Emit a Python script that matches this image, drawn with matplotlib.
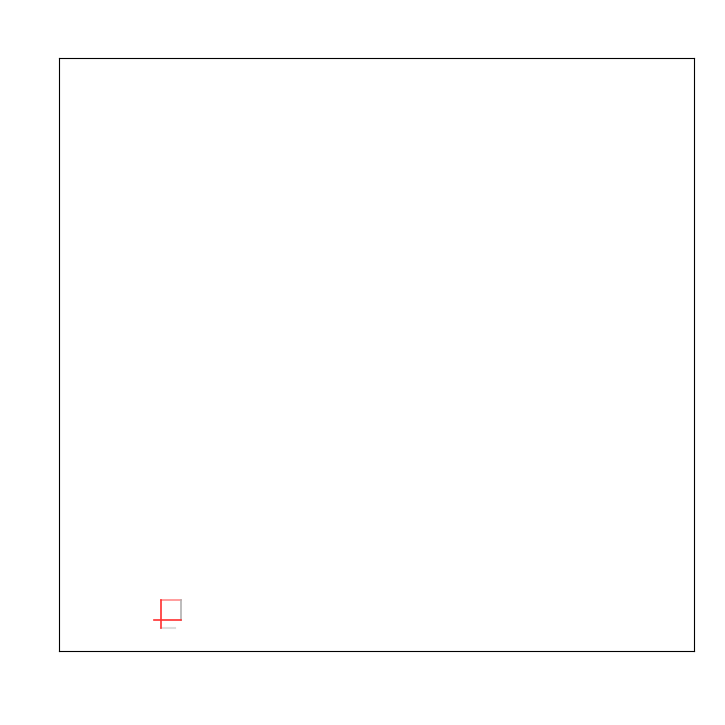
import matplotlib
matplotlib.use("Agg")
import matplotlib.pyplot as plt

# small segments (axes fraction units)
box_top_x = [0.1606, 0.192]
box_top_y = [0.086, 0.086]
box_right_x = [0.192, 0.192]
box_right_y = [0.086, 0.0523]
red_vert_x = [0.1606, 0.1606]
red_vert_y = [0.086, 0.0388]
red_horiz_x = [0.1496, 0.192]
red_horiz_y = [0.0528, 0.0528]
base_x = [0.1606, 0.1827]
base_y = [0.0388, 0.0388]

fig = plt.figure(figsize=(7.25, 7.25), dpi=100)
ax = fig.add_axes([0.0814, 0.102, 0.8758, 0.818])

ax.plot(box_top_x, box_top_y, color="#ff8c8c", lw=1.2)
ax.plot(box_right_x, box_right_y, color="#b0b0b0", lw=1.2)
ax.plot(base_x, base_y, color="#dcdcdc", lw=1.5)
ax.plot(red_vert_x, red_vert_y, color="#ff3030", lw=1.2)
ax.plot(red_horiz_x, red_horiz_y, color="#ff3030", lw=1.2)

ax.set_xlim(0, 1)
ax.set_ylim(0, 1)
ax.set_xticks([])
ax.set_yticks([])
for sp in ax.spines.values():
    sp.set_linewidth(0.8)

plt.savefig("out.png", dpi=100)
